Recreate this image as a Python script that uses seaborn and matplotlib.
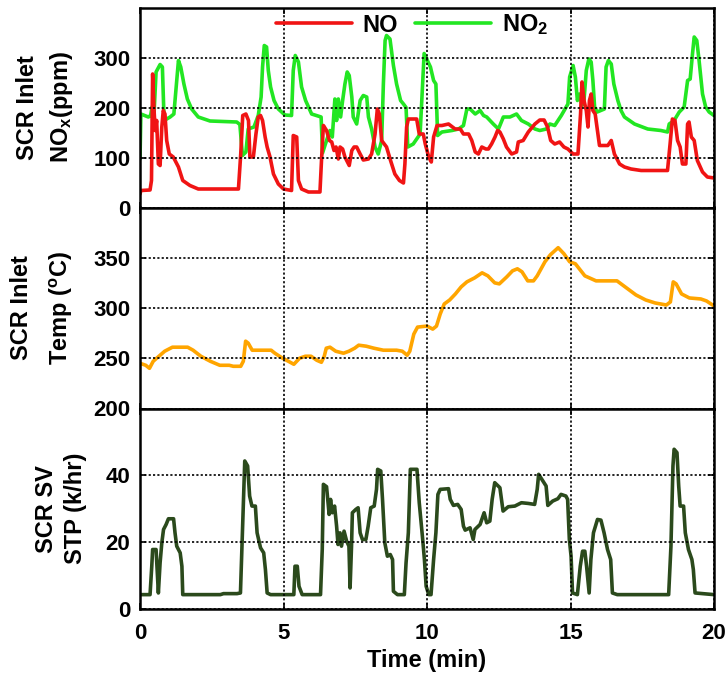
import numpy as np
import pandas as pd
import matplotlib
matplotlib.use("Agg")
import matplotlib.pyplot as plt
import seaborn as sns

# ---------------- data ----------------
t_no = [0.00, 0.03, 0.35, 0.40, 0.44, 0.49, 0.53, 0.58, 0.64, 0.70,
        0.76, 0.81, 0.87, 0.93, 1.02, 1.16, 1.34, 1.49, 1.74, 2.03,
        2.32, 2.67, 3.43, 3.51, 3.58, 3.69, 3.78, 3.83, 3.95, 4.04,
        4.12, 4.20, 4.27, 4.36, 4.43, 4.53, 4.65, 4.82, 5.00, 5.28,
        5.34, 5.46, 5.52, 5.63, 5.87, 6.27, 6.33, 6.39, 6.50, 6.60,
        6.68, 6.76, 6.83, 6.91, 6.97, 7.06, 7.14, 7.20, 7.29, 7.38,
        7.46, 7.55, 7.67, 7.78, 7.96, 8.07, 8.19, 8.27, 8.34, 8.42,
        8.59, 8.73, 8.88, 9.04, 9.18, 9.23, 9.29, 9.35, 9.64, 9.73,
        9.87, 9.94, 10.06, 10.15, 10.23, 10.35, 10.52, 10.75, 10.98, 11.16,
        11.27, 11.45, 11.56, 11.68, 11.79, 11.91, 12.05, 12.14, 12.25, 12.37,
        12.46, 12.54, 12.66, 12.77, 12.95, 13.12, 13.18, 13.35, 13.53, 13.76,
        13.93, 14.08, 14.20, 14.31, 14.45, 14.62, 14.77, 14.91, 15.09, 15.26,
        15.35, 15.40, 15.47, 15.55, 15.61, 15.66, 15.72, 15.78, 15.86, 16.01,
        16.30, 16.42, 16.53, 16.71, 16.88, 17.11, 17.46, 18.38, 18.47, 18.55,
        18.64, 18.73, 18.82, 18.90, 19.02, 19.08, 19.13, 19.21, 19.31, 19.42,
        19.60, 19.77, 20.00]
no = [27, 34, 35, 54, 267, 194, 154, 174, 87, 84,
      161, 194, 187, 134, 107, 101, 81, 54, 44, 37,
      37, 37, 37, 107, 184, 187, 174, 101, 101, 147,
      181, 184, 174, 141, 121, 101, 67, 47, 37, 34,
      144, 141, 54, 37, 31, 31, 101, 164, 154, 134,
      131, 114, 121, 97, 121, 117, 101, 94, 84, 114,
      121, 121, 107, 95, 97, 107, 147, 197, 187, 134,
      121, 94, 67, 54, 49, 87, 161, 177, 177, 147,
      147, 127, 101, 91, 141, 164, 164, 167, 157, 157,
      147, 147, 134, 111, 107, 121, 117, 117, 127, 141,
      154, 151, 137, 121, 107, 111, 131, 134, 151, 167,
      175, 175, 161, 134, 127, 131, 121, 117, 107, 107,
      187, 251, 214, 194, 161, 214, 227, 194, 187, 124,
      124, 134, 107, 87, 81, 77, 74, 74, 127, 177,
      174, 134, 121, 87, 87, 167, 171, 141, 134, 94,
      71, 61, 59]

t_no2 = [0.00, 0.03, 0.29, 0.37, 0.42, 0.46, 0.56, 0.70, 0.78, 0.84,
         1.05, 1.18, 1.34, 1.42, 1.53, 1.65, 1.80, 2.03, 2.44, 3.37,
         3.48, 3.57, 3.69, 3.77, 3.97, 4.12, 4.22, 4.27, 4.33, 4.41,
         4.47, 4.55, 4.67, 4.82, 5.05, 5.28, 5.34, 5.41, 5.52, 5.63,
         5.77, 5.98, 6.31, 6.36, 6.50, 6.62, 6.70, 6.79, 6.85, 6.91,
         6.99, 7.06, 7.14, 7.22, 7.29, 7.38, 7.43, 7.55, 7.67, 7.78,
         7.90, 7.96, 8.07, 8.19, 8.30, 8.42, 8.48, 8.54, 8.59, 8.71,
         8.83, 8.94, 9.08, 9.18, 9.27, 9.33, 9.52, 9.76, 9.90, 10.12,
         10.23, 10.31, 10.37, 10.52, 10.87, 11.10, 11.27, 11.39, 11.50, 11.68,
         11.85, 11.97, 12.08, 12.31, 12.49, 12.66, 12.89, 13.12, 13.29, 13.53,
         13.76, 13.93, 14.16, 14.28, 14.45, 14.68, 14.91, 14.97, 15.09, 15.17,
         15.24, 15.32, 15.40, 15.47, 15.55, 15.64, 15.72, 15.78, 15.84, 15.93,
         16.18, 16.24, 16.32, 16.42, 16.51, 16.65, 16.76, 16.88, 17.23, 17.69,
         18.15, 18.38, 18.44, 18.61, 18.79, 18.96, 19.08, 19.17, 19.25, 19.31,
         19.40, 19.48, 19.60, 19.71, 19.83, 20.00]
no2 = [97, 187, 181, 184, 201, 154, 271, 286, 281, 174,
       181, 187, 294, 281, 247, 217, 197, 181, 173, 171,
       166, 104, 111, 157, 161, 184, 221, 281, 324, 321,
       274, 241, 214, 197, 185, 184, 274, 304, 291, 241,
       214, 187, 181, 109, 134, 154, 141, 217, 174, 217,
       181, 214, 247, 271, 264, 221, 181, 167, 214, 224,
       221, 181, 157, 121, 107, 134, 247, 334, 344, 337,
       284, 247, 214, 207, 200, 121, 127, 147, 308, 281,
       254, 247, 144, 151, 154, 157, 164, 197, 197, 187,
       194, 184, 181, 167, 157, 181, 181, 187, 174, 167,
       157, 154, 157, 167, 164, 184, 207, 261, 284, 261,
       214, 227, 204, 214, 274, 297, 291, 254, 201, 191,
       197, 281, 294, 287, 247, 214, 194, 181, 167, 157,
       154, 151, 167, 174, 191, 201, 254, 257, 307, 341,
       334, 294, 227, 201, 191, 184]

t_temp = [0.00, 0.20, 0.33, 0.46, 0.66, 0.86, 1.13, 1.66, 1.85, 2.12,
          2.45, 2.78, 3.11, 3.25, 3.51, 3.60, 3.68, 3.77, 3.91, 4.17,
          4.57, 4.70, 4.97, 5.17, 5.36, 5.56, 5.76, 5.96, 6.16, 6.32,
          6.42, 6.49, 6.62, 6.82, 7.09, 7.28, 7.48, 7.62, 7.88, 8.15,
          8.48, 8.94, 9.14, 9.31, 9.40, 9.54, 9.67, 10.00, 10.20, 10.33,
          10.46, 10.60, 10.79, 10.99, 11.19, 11.39, 11.66, 11.92, 12.12, 12.36,
          12.52, 12.78, 12.98, 13.15, 13.31, 13.51, 13.71, 13.84, 14.11, 14.30,
          14.57, 14.77, 14.97, 15.17, 15.50, 15.89, 16.62, 16.95, 17.28, 17.62,
          17.95, 18.34, 18.48, 18.58, 18.68, 18.87, 19.14, 19.54, 19.74, 20.00]
temp = [245, 243, 240, 247, 252, 257, 261, 261, 258, 252,
        247, 243, 243, 242, 242, 247, 267, 265, 258, 258,
        258, 255, 250, 247, 244, 250, 252, 252, 248, 246,
        252, 260, 261, 257, 255, 257, 260, 263, 262, 260,
        258, 258, 257, 253, 257, 274, 281, 282, 279, 282,
        294, 304, 308, 314, 321, 326, 330, 335, 332, 325,
        324, 331, 337, 339, 336, 327, 327, 332, 346, 353,
        360, 354, 346, 344, 332, 327, 327, 320, 313, 308,
        305, 303, 306, 326, 324, 314, 310, 309, 307, 302]

t_sv = [0, 0.35, 0.41, 0.44, 0.56, 0.61, 0.64, 0.70, 0.76, 0.82,
        0.91, 0.99, 1.17, 1.22, 1.28, 1.40, 1.46, 1.49, 2.80, 2.91,
        3.38, 3.50, 3.55, 3.61, 3.65, 3.75, 3.82, 3.90, 4.02, 4.08,
        4.20, 4.31, 4.37, 4.43, 4.55, 5.36, 5.40, 5.48, 5.54, 5.65,
        6.29, 6.35, 6.39, 6.50, 6.59, 6.64, 6.70, 6.78, 6.85, 6.90,
        6.97, 7.02, 7.11, 7.20, 7.28, 7.32, 7.37, 7.40, 7.52, 7.60,
        7.67, 7.75, 7.87, 7.95, 8.04, 8.16, 8.24, 8.28, 8.39, 8.45,
        8.53, 8.62, 8.72, 8.80, 8.83, 8.97, 9.21, 9.27, 9.35, 9.42,
        9.65, 9.73, 9.85, 9.91, 9.97, 10.06, 10.14, 10.23, 10.31, 10.38,
        10.46, 10.75, 10.81, 10.92, 11.07, 11.19, 11.27, 11.33, 11.50, 11.61,
        11.67, 11.85, 11.99, 12.08, 12.19, 12.27, 12.36, 12.54, 12.65, 12.83,
        13.06, 13.29, 13.52, 13.75, 13.84, 13.89, 14.04, 14.15, 14.21, 14.38,
        14.56, 14.67, 14.84, 14.90, 14.96, 15.02, 15.07, 15.24, 15.34, 15.42,
        15.50, 15.56, 15.65, 15.71, 15.80, 15.94, 16.06, 16.17, 16.29, 16.40,
        16.46, 16.63, 18.42, 18.50, 18.57, 18.61, 18.71, 18.77, 18.82, 18.94,
        19.00, 19.11, 19.23, 19.28, 19.34, 20.00]
sv = [4.3, 4.3, 12.8, 17.8, 17.8, 9.8, 4.8, 13.8, 19.8, 23.8,
      25.3, 27, 27, 22.8, 18.8, 16.8, 12.8, 4.3, 4.3, 4.6,
      4.6, 4.8, 17.8, 32.8, 44.3, 42.8, 33.8, 30.8, 30.8, 22.8,
      18.3, 16.8, 11.8, 4.8, 4.3, 4.3, 12.8, 12.8, 6.8, 4.3,
      4.3, 17.8, 37.3, 36.6, 28.3, 32.8, 28.8, 30.8, 24.8, 19.3,
      22.8, 18.8, 23.3, 20.3, 18.8, 6.3, 18.8, 28.8, 29.8, 30.3,
      22.8, 20.8, 20.8, 24.8, 30.3, 30.8, 35.8, 41.8, 41.3, 32.8,
      19.8, 15.8, 16.3, 14.8, 5.3, 4.3, 4.3, 13.8, 22.8, 41.8,
      41.8, 31.8, 20.8, 14.8, 6.8, 4.3, 4.3, 14.8, 22.8, 34.3,
      35.8, 36, 32.8, 31, 31.3, 29.8, 24.8, 23.6, 24.3, 20.8,
      23.8, 25.3, 28.8, 25.8, 26.3, 32.8, 37.8, 36.3, 29.3, 30.6,
      30.8, 31.8, 31.6, 31.3, 35.8, 40.3, 38.3, 36.8, 31, 32.3,
      33, 34.3, 33.8, 32.8, 20.8, 15.8, 4.8, 4.3, 12.8, 17.3,
      17.3, 12.8, 4.8, 14.8, 22.8, 26.8, 26.6, 22.8, 17.8, 14.8,
      4.8, 4.3, 4.3, 18.8, 42.8, 47.8, 46.8, 36.8, 30.8, 30.8,
      22.8, 17.8, 14.8, 11.8, 4.8, 4.3]

x_ticks = [0, 5, 10, 15, 20]
nox_ticks = [0, 100, 200, 300]
temp_ticks = [200, 250, 300, 350]
sv_ticks = [0, 20, 40]

# ---------------- style ----------------
sns.set_theme(style="white")
plt.rcParams.update({
    "font.family": ["Liberation Sans", "DejaVu Sans"],
    "font.weight": "bold",
    "axes.labelweight": "bold",
    "text.color": "black",
    "axes.labelcolor": "black",
    "xtick.color": "black",
    "ytick.color": "black",
    "mathtext.fontset": "custom",
    "mathtext.rm": "Liberation Sans:bold",
    "mathtext.bf": "Liberation Sans:bold",
    "mathtext.it": "Liberation Sans:bold",
    "mathtext.default": "bf",
})

lab_no = "NO"
lab_no2 = r"NO$_2$"
df_nox = pd.concat([
    pd.DataFrame({"t": t_no, "ppm": no, "species": lab_no}),
    pd.DataFrame({"t": t_no2, "ppm": no2, "species": lab_no2}),
], ignore_index=True)
df_temp = pd.DataFrame({"t": t_temp, "temp": temp})
df_sv = pd.DataFrame({"t": t_sv, "sv": sv})

W_PX, H_PX = 726, 679
fig = plt.figure(figsize=(W_PX / 100, H_PX / 100), dpi=100)
L = 140 / W_PX
WD = (714 - 140) / W_PX


def rect(y0, y1):
    return [L, 1 - y1 / H_PX, WD, (y1 - y0) / H_PX]


ax1 = fig.add_axes(rect(7.5, 207.5))
ax2 = fig.add_axes(rect(207.5, 408.5))
ax3 = fig.add_axes(rect(408.5, 609))

LW = 2.6
sns.lineplot(data=df_nox, x="t", y="ppm", hue="species",
             palette={lab_no: "#F01414", lab_no2: "#22E622"},
             hue_order=[lab_no2, lab_no],
             estimator=None, sort=False, linewidth=LW, ax=ax1)
sns.lineplot(data=df_temp, x="t", y="temp", color="#FFA500",
             estimator=None, sort=False, linewidth=LW, ax=ax2)
sns.lineplot(data=df_sv, x="t", y="sv", color="#2B4A1C",
             estimator=None, sort=False, linewidth=LW, ax=ax3)

handles, labels = ax1.get_legend_handles_labels()
ax1.get_legend().remove()
hmap = dict(zip(labels, handles))
fig.legend([hmap[lab_no], hmap[lab_no2]], [lab_no, lab_no2],
           loc="center", bbox_to_anchor=(412 / W_PX, 1 - 25 / H_PX),
           ncol=2, frameon=False, fontsize=17, handlelength=3.2,
           handletextpad=0.45, columnspacing=0.75)

TICK_FS = 16
LAB_FS = 17
settings = [
    (ax1, (0, 400), nox_ticks, "SCR Inlet\nNO$_\\mathbf{x}$(ppm)", 1.45),
    (ax2, (200, 400), temp_ticks, "SCR Inlet\nTemp ($^\\mathbf{o}$C)", 1.75),
    (ax3, (0, 60), sv_ticks, "SCR SV\nSTP (k/hr)", 1.35),
]
for ax, ylim, yt, ylab, lsp in settings:
    ax.set_xlim(0, 20)
    ax.set_ylim(*ylim)
    ax.set_yticks(yt)
    ax.set_xticks(x_ticks)
    ax.grid(True, color="black", linestyle=(0, (1.3, 1.3)), linewidth=1.2)
    ax.set_axisbelow(False)
    for sp in ax.spines.values():
        sp.set_visible(True)
        sp.set_color("black")
        sp.set_linewidth(1.8)
    ax.tick_params(direction="in", length=4, width=1.2, colors="black",
                   left=True, right=True, top=True, bottom=True,
                   labelsize=TICK_FS)
    ax.tick_params(axis="y", pad=7)
    ax.tick_params(axis="x", pad=10)
    ax.set_ylabel(ylab, fontsize=LAB_FS, fontweight="bold", labelpad=13,
                  linespacing=lsp)
    ax.set_xlabel("")

ax1.tick_params(labelbottom=False)
ax2.tick_params(labelbottom=False)
ax3.set_xlabel("Time (min)", fontsize=LAB_FS, fontweight="bold", labelpad=4)

fig.savefig("out.png", dpi=100)
